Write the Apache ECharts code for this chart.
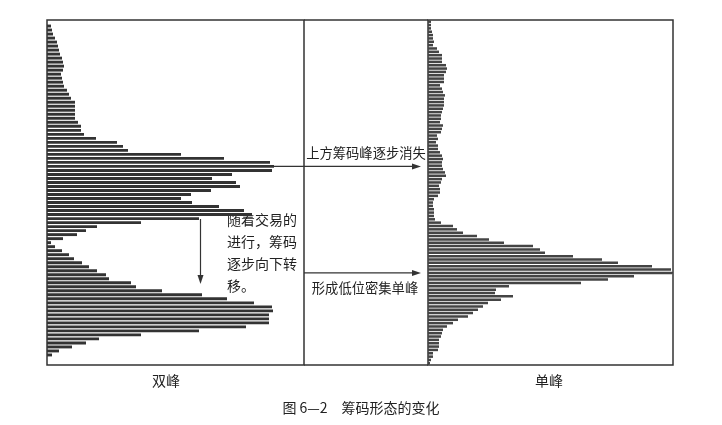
<!DOCTYPE html>
<html>
<head>
<meta charset="utf-8">
<script src="https://cdn.jsdelivr.net/npm/echarts@6/dist/echarts.min.js"></script>
<style>
html,body{margin:0;padding:0;background:#fff;}
#c{width:722px;height:425px;}
</style>
</head>
<body>
<div id="c"></div>
<script>
// Left panel (双峰): chip volume per price level, top = high price
const leftValues = [0,
  4,5,6,8,10,11,12,13,15,16,17,16,14,15,16,17,20,22,24,28,28,28,28,28,31,34,34,37,49,70,76,81,134,177,223,227,225,185,165,189,193,164,144,
  134,145,172,197,205,152,94,50,39,30,16,4,8,15,22,27,35,42,50,59,62,84,89,115,155,180,207,225,226,222,222,222,199,152,94,52,39,25,12,5,
  0,0];
// Right panel (单峰)
const rightValues = [
  3,3,3,4,5,5,6,5,9,11,14,14,14,18,19,18,16,16,16,12,14,15,17,16,16,16,15,14,13,13,12,15,14,13,9,10,8,10,10,12,14,15,14,14,15,17,18,14,13,11,12,12,
  10,6,5,5,6,6,6,7,13,25,29,35,49,61,76,105,112,117,145,174,190,224,243,244,206,180,153,81,68,67,85,73,60,55,50,45,40,30,25,19,15,14,13,11,11,11,10,5,5,3,2];
const leftCategories = leftValues.map((v, i) => 'L' + i);
const rightCategories = rightValues.map((v, i) => 'R' + i);
const leftPeakIndex = 36;
const rightPeakIndex = 75;
const panelLabels = ['双峰', '单峰'];
const noteUpper = '上方筹码峰逐步消失';
const noteLower = '形成低位密集单峰';
const noteLeft = '随着交易的\n进行，筹码\n逐步向下转\n移。';
const caption = '图 6—2　筹码形态的变化';

const FONT = '"Noto Sans CJK SC", "Noto Sans", sans-serif';
const chart = echarts.init(document.getElementById('c'), null, {renderer: 'canvas'});

const option = {
  animation: false,
  backgroundColor: '#fff',
  grid: [
    {left: 47, top: 20, width: 257, height: 345, show: true, borderColor: '#333', borderWidth: 1.5, backgroundColor: 'transparent'},
    {left: 428, top: 20, width: 245, height: 345, show: true, borderColor: '#333', borderWidth: 1.5, backgroundColor: 'transparent'}
  ],
  xAxis: [
    {type: 'value', gridIndex: 0, min: 0, max: 257, show: false},
    {type: 'value', gridIndex: 1, min: 0, max: 245, show: false}
  ],
  yAxis: [
    {type: 'category', gridIndex: 0, data: leftCategories, inverse: true, show: false},
    {type: 'category', gridIndex: 1, data: rightCategories, inverse: true, show: false}
  ],
  series: [
    {type: 'bar', xAxisIndex: 0, yAxisIndex: 0, data: leftValues, barCategoryGap: '28%',
     itemStyle: {color: '#333'}, silent: true},
    {type: 'bar', xAxisIndex: 1, yAxisIndex: 1, data: rightValues, barCategoryGap: '25%',
     itemStyle: {color: '#444'}, silent: true}
  ]
};
chart.setOption(option);

const upY = chart.convertToPixel({seriesIndex: 0}, [0, leftPeakIndex])[1];
const lowY = chart.convertToPixel({seriesIndex: 1}, [0, rightPeakIndex])[1];
const lineStyle = {stroke: '#333', lineWidth: 1.2};
const textStyle = (t, x, y, size, align) => ({
  type: 'text', x: x, y: y,
  style: {text: t, fill: '#222', font: size + 'px ' + FONT, textAlign: align || 'left', textVerticalAlign: 'middle'}
});

chart.setOption({
  graphic: [
    // middle frame top/bottom
    {type: 'line', shape: {x1: 304, y1: 20, x2: 428, y2: 20}, style: {stroke: '#333', lineWidth: 1.5}},
    {type: 'line', shape: {x1: 304, y1: 365, x2: 428, y2: 365}, style: {stroke: '#333', lineWidth: 1.5}},
    // upper arrow
    {type: 'line', shape: {x1: 47, y1: upY, x2: 414, y2: upY}, style: lineStyle},
    {type: 'polygon', shape: {points: [[421, upY], [412, upY - 3], [412, upY + 3]]}, style: {fill: '#333'}},
    // lower arrow
    {type: 'line', shape: {x1: 304, y1: lowY, x2: 414, y2: lowY}, style: lineStyle},
    {type: 'polygon', shape: {points: [[421, lowY], [412, lowY - 3], [412, lowY + 3]]}, style: {fill: '#333'}},
    {type: 'line', shape: {x1: 428, y1: lowY, x2: 673, y2: lowY}, style: lineStyle},
    // vertical arrow
    {type: 'line', shape: {x1: 200.5, y1: 219, x2: 200.5, y2: 276}, style: lineStyle},
    {type: 'polygon', shape: {points: [[200.5, 284], [197.5, 275], [203.5, 275]]}, style: {fill: '#333'}},
    // texts
    textStyle(noteUpper, 366, upY - 13, 13.3, 'center'),
    textStyle(noteLower, 365, lowY + 15, 13.3, 'center'),
    {type: 'text', x: 227, y: 209,
     style: {text: noteLeft, fill: '#222', font: '14px ' + FONT, lineHeight: 21.8, textAlign: 'left', textVerticalAlign: 'top'}},
    textStyle(panelLabels[0], 166, 381, 14, 'center'),
    textStyle(panelLabels[1], 549, 381, 14, 'center'),
    textStyle(caption, 361, 408, 14, 'center')
  ]
});
</script>
</body>
</html>
